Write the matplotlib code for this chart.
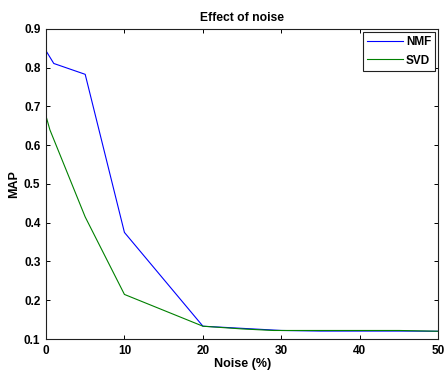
import matplotlib
matplotlib.use("Agg")
import matplotlib.pyplot as plt

noise_nmf = [0, 1, 5, 10, 20, 30, 35, 45, 50]
map_nmf = [0.844, 0.811, 0.783, 0.375, 0.133, 0.122, 0.1205, 0.1205, 0.120]
noise_svd = [0, 0.5, 5, 10, 20, 25, 29, 45, 50]
map_svd = [0.676, 0.640, 0.415, 0.215, 0.133, 0.126, 0.122, 0.122, 0.120]
xticks = [0, 10, 20, 30, 40, 50]
yticks = [0.1, 0.2, 0.3, 0.4, 0.5, 0.6, 0.7, 0.8, 0.9]

plt.rcParams['font.family'] = ['Liberation Sans', 'DejaVu Sans']
fig = plt.figure(figsize=(4.46, 3.76), dpi=100)
ax = fig.add_axes([0.103, 0.0984, 0.880, 0.8245])
ax.plot(noise_nmf, map_nmf, color=(0, 0, 1), lw=0.8, label='NMF')
ax.plot(noise_svd, map_svd, color=(0, 0.5, 0), lw=0.8, label='SVD')
ax.set_xlim(0, 50)
ax.set_ylim(0.1, 0.9)
ax.set_xticks(xticks)
ax.set_yticks(yticks)
ax.set_xticklabels([str(v) for v in xticks], fontweight='bold', fontsize=8.5)
ax.set_yticklabels([f"{v:.1f}" for v in yticks], fontweight='bold', fontsize=8.5)
ax.tick_params(direction='in', top=True, right=True, length=3, width=0.7, pad=4)
for s in ax.spines.values():
    s.set_linewidth(0.8)
    s.set_color('#202020')
ax.set_title('Effect of noise', fontsize=8.7, fontweight='bold', pad=6)
ax.set_xlabel('Noise (%)', fontsize=9, fontweight='bold', labelpad=1)
ax.set_ylabel('MAP', fontsize=9, fontweight='bold', labelpad=3)
leg = ax.legend(loc='upper right', fancybox=False, framealpha=1, edgecolor='#202020',
                prop={'weight': 'bold', 'size': 8.5}, handlelength=3.0,
                borderaxespad=0.25, handletextpad=0.3, labelspacing=0.55,
                borderpad=0.35)
leg.get_frame().set_linewidth(0.8)
fig.savefig('out.png', dpi=100)
